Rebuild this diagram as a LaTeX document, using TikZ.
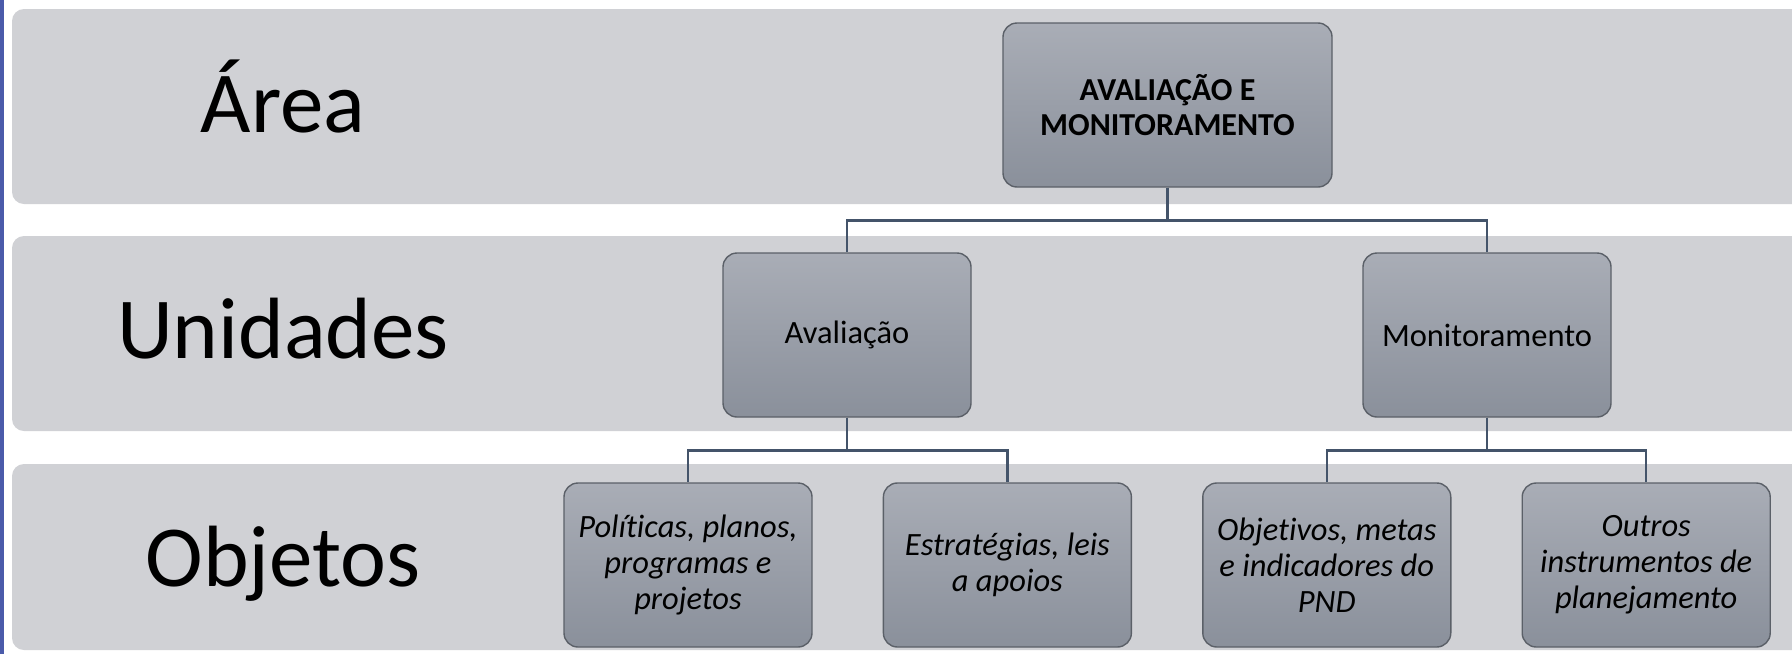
\documentclass[tikz,border=0pt]{standalone}
\usepackage{fontspec}
\setmainfont{Carlito}[Ligatures=CommonOff]
\usetikzlibrary{positioning}
\definecolor{bandgray}{HTML}{D0D1D5}
\definecolor{boxtop}{HTML}{A9ADB6}
\definecolor{boxbottom}{HTML}{8A909B}
\definecolor{boxedge}{HTML}{5B6068}
\definecolor{linkcol}{HTML}{44546A}
\definecolor{stripblue}{HTML}{4B5BAA}
\tikzset{
  band/.style={fill=bandgray, rounded corners=12},
  rowlabel/.style={anchor=base, font=\fontsize{87}{100}\selectfont},
  orgbox/.style={draw=boxedge, line width=1.4, rounded corners=14,
    top color=boxtop, bottom color=boxbottom,
    minimum width=248, minimum height=164, inner sep=4, align=center,
    font=\fontsize{32.5}{36}\selectfont},
  topbox/.style={orgbox, minimum width=329, font=\fontsize{32}{35}\selectfont\bfseries},
  objbox/.style={orgbox, font=\fontsize{32.5}{36}\selectfont\itshape},
  link/.style={draw=linkcol, line width=2.5}
}

\begin{document}
\begin{tikzpicture}[x=1pt,y=-1pt]
\clip (0,0) rectangle (1792,654);
\fill[white] (0,0) rectangle (1792,654);
\fill[stripblue] (0,0) rectangle (4,654);
% faixas
\fill[band] (12,9) rectangle (1830,204);
\fill[band] (12,236) rectangle (1830,431);
\fill[band] (12,464) rectangle (1830,650);
\node[rowlabel] (larea) at (283,132) {Área};
\node[rowlabel] (lunid) at (283,358) {Unidades};
\node[rowlabel] (lobj) at (283,586) {Objetos};
% caixas
\node[topbox] (area) at (1167.5,105) {AVALIAÇÃO E\\MONITORAMENTO};
\node[orgbox] (aval) at (847,335) {Avaliação};
\node[orgbox] (monit) at (1487,335) {Monitoramento};
\node[objbox] (pol) at (688,565) {Políticas, planos,\\programas e\\projetos};
\node[objbox, right=70 of pol] (estr) {Estratégias, leis\\a apoios};
\node[objbox, right=70 of estr] (meta) {Objetivos, metas\\e indicadores do\\PND};
\node[objbox, right=70 of meta] (outr) {Outros\\instrumentos de\\planejamento};
% ligacoes
\draw[link] (area.south) -- ++(0,33) -| (aval.north);
\draw[link] (area.south) -- ++(0,33) -| (monit.north);
\draw[link] (aval.south) -- ++(0,33) -| (pol.north);
\draw[link] (aval.south) -- ++(0,33) -| (estr.north);
\draw[link] (monit.south) -- ++(0,33) -| (meta.north);
\draw[link] (monit.south) -- ++(0,33) -| (outr.north);
\end{tikzpicture}
\end{document}
